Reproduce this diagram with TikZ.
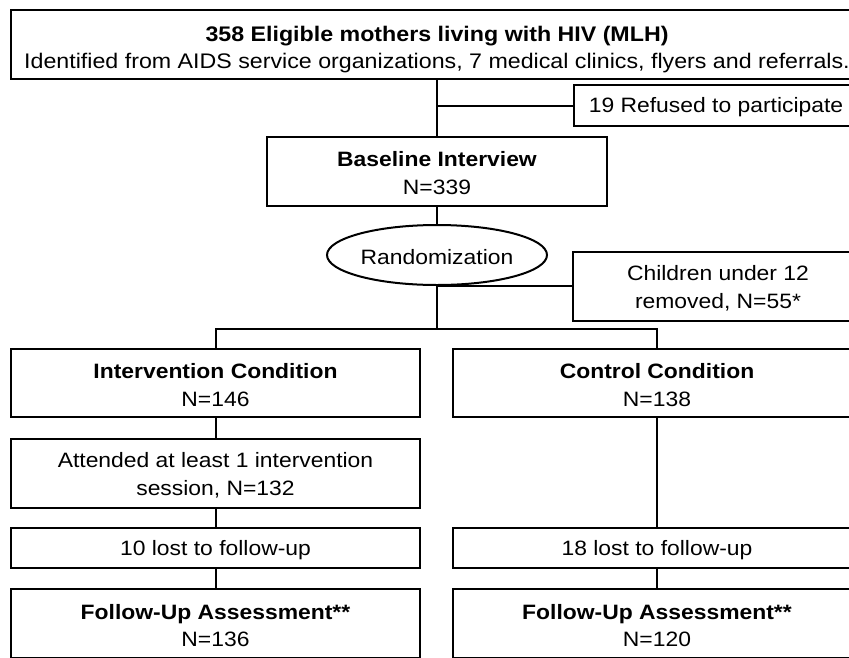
\documentclass[tikz,border=0pt]{standalone}
\usepackage{fontspec}
\setmainfont{Liberation Sans}[FakeStretch=1.1]
\usetikzlibrary{shapes.geometric}
\newcommand\mystrut[1]{\rule{0pt}{#1}}
\begin{document}
\begin{tikzpicture}[x=1pt,y=-1pt,
  frame/.style={draw=black,line width=2pt,rectangle,align=center,inner sep=0pt},
  box/.style={frame,font=\fontsize{20.8}{27.5}\selectfont},
  topbox/.style={frame,font=\fontsize{21.1}{27}\selectfont},
  wide/.style={box,minimum width=409pt},
  conn/.style={draw=black,line width=2pt}
]
\path[use as bounding box] (0,0) rectangle (849,657);
\clip (0,0) rectangle (849,657);
\fill[white] (0,0) rectangle (849,657);

\node[topbox,minimum width=852pt,minimum height=69pt] (top) at (437,44.5)
  {\mystrut{26pt}\textbf{358 Eligible mothers living with HIV (MLH)}\\Identified from AIDS service organizations, 7 medical clinics, flyers and referrals.};
\node[box,minimum width=284pt,minimum height=41pt] (refused) at (716,105.5) {\mystrut{19pt}19 Refused to participate};
\node[box,minimum width=340pt,minimum height=69pt] (base) at (437,171) {\mystrut{19pt}\textbf{Baseline Interview}\\N=339};
\node[draw=black,line width=2pt,ellipse,inner sep=0pt,minimum width=220pt,minimum height=60pt,
  font=\fontsize{20.8}{27.5}\selectfont] (rand) at (437,255) {\mystrut{19pt}Randomization};
\node[box,minimum width=290pt,minimum height=69pt] (children) at (718,286.5) {\mystrut{19pt}Children under 12\\removed, N=55*};
\coordinate (split) at (437,329);
\node[wide,minimum height=68pt] (int) at (215.5,383) {\mystrut{19pt}\textbf{Intervention Condition}\\N=146};
\node[wide,minimum height=68pt] (ctrl) at (657,383) {\mystrut{19pt}\textbf{Control Condition}\\N=138};
\node[wide,minimum height=69pt] (att) at (215.5,473.5) {\mystrut{19pt}Attended at least 1 intervention\\session, N=132};
\node[wide,minimum height=40pt] (lost10) at (215.5,548) {\mystrut{19pt}10 lost to follow-up};
\node[wide,minimum height=40pt] (lost18) at (657,548) {\mystrut{19pt}18 lost to follow-up};
\node[wide,minimum height=69pt] (fu1) at (215.5,623.5) {\mystrut{19pt}\textbf{Follow-Up Assessment**}\\N=136};
\node[wide,minimum height=69pt] (fu2) at (657,623.5) {\mystrut{19pt}\textbf{Follow-Up Assessment**}\\N=120};

\draw[conn] (top.south) -- (base.north);
\draw[conn] (refused.west) -- (refused.west -| top.south);
\draw[conn] (base.south) -- (rand.north);
\draw[conn] (rand.south) -- (split);
\draw[conn] (rand.south) -- (rand.south -| children.west);
\draw[conn] (int.north) |- (split) -| (ctrl.north);
\draw[conn] (int.south) -- (att.north);
\draw[conn] (att.south) -- (lost10.north);
\draw[conn] (lost10.south) -- (fu1.north);
\draw[conn] (ctrl.south) -- (lost18.north);
\draw[conn] (lost18.south) -- (fu2.north);
\end{tikzpicture}
\end{document}
